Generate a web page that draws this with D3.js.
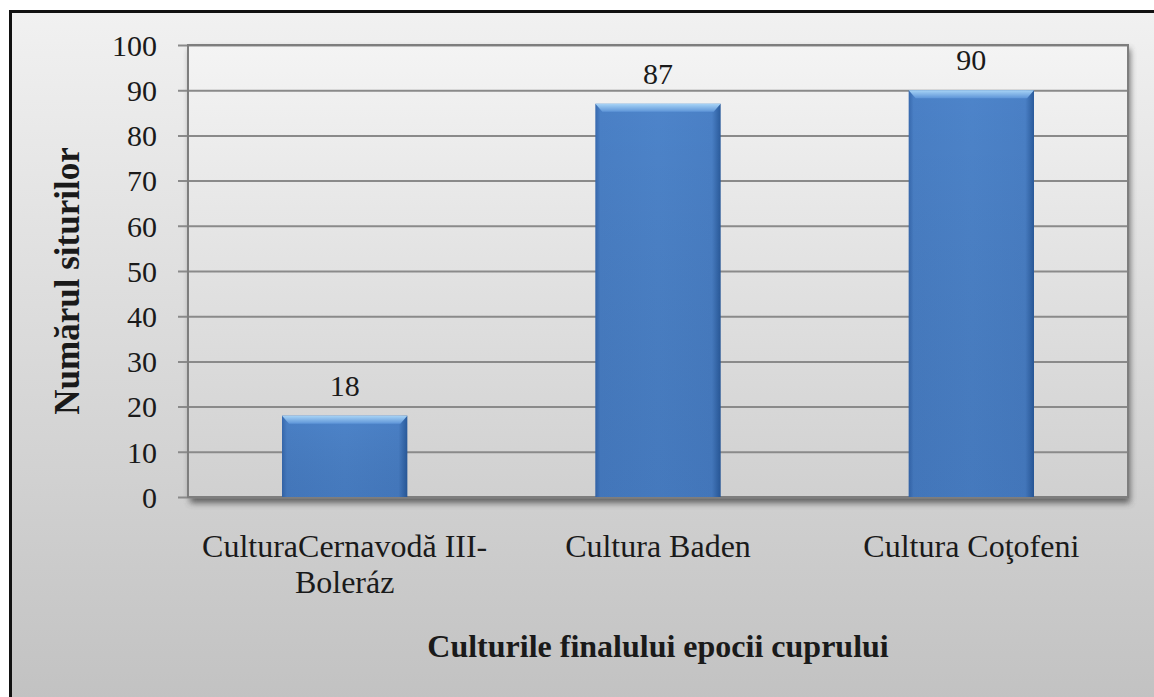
<!DOCTYPE html>
<html>
  <head>
    <meta charset="UTF-8">
    <style>
      body { margin: 0; background: #fff; }
      text { font-family: "Liberation Serif", "Times New Roman", serif; fill: #1a1a1a; }
      .tick text { font-size: 30px; }
      .cat { font-size: 32px; text-anchor: middle; }
      .val { font-size: 30px; text-anchor: middle; }
      .title { font-size: 32px; font-weight: bold; text-anchor: middle; }
      .ytitle { font-size: 35px; }
    </style>
    <script src="https://cdnjs.cloudflare.com/ajax/libs/d3/7.8.5/d3.min.js"></script>
  </head>
  <body>
    <script>
      var categories = [["CulturaCernavodă III-", "Boleráz"], ["Cultura Baden"], ["Cultura Coţofeni"]];
      var values = [18, 87, 90];
      var yTicks = [0, 10, 20, 30, 40, 50, 60, 70, 80, 90, 100];
      var yTitle = "Numărul siturilor";
      var xTitle = "Culturile finalului epocii cuprului";

      var width = 1154, height = 697;
      var plot = { left: 188, top: 45, right: 1128, bottom: 497 };

      var svg = d3.select("body").append("svg")
        .attr("width", width)
        .attr("height", height);

      var defs = svg.append("defs");

      var bg = defs.append("linearGradient").attr("id", "bg")
        .attr("x1", 0).attr("y1", 0).attr("x2", 0).attr("y2", 1);
      bg.append("stop").attr("offset", "0%").attr("stop-color", "#f1f1f1");
      bg.append("stop").attr("offset", "100%").attr("stop-color", "#c0c0c0");

      var pbg = defs.append("linearGradient").attr("id", "pbg")
        .attr("x1", 0).attr("y1", 0).attr("x2", 0).attr("y2", 1);
      pbg.append("stop").attr("offset", "0%").attr("stop-color", "#f4f4f4");
      pbg.append("stop").attr("offset", "100%").attr("stop-color", "#d0d0d0");

      var barG = defs.append("linearGradient").attr("id", "barG")
        .attr("x1", 0).attr("y1", 0).attr("x2", 1).attr("y2", 0);
      [["0%", "#3769ae"], ["4%", "#4a80c6"], ["50%", "#4d84ca"], ["93%", "#4a80c6"], ["100%", "#2a5b9c"]]
        .forEach(function(s) { barG.append("stop").attr("offset", s[0]).attr("stop-color", s[1]); });

      var barV = defs.append("linearGradient").attr("id", "barV")
        .attr("x1", 0).attr("y1", 0).attr("x2", 0).attr("y2", 1);
      barV.append("stop").attr("offset", "0%").attr("stop-color", "#000").attr("stop-opacity", 0);
      barV.append("stop").attr("offset", "100%").attr("stop-color", "#0a2a60").attr("stop-opacity", 0.12);

      var bevel = defs.append("linearGradient").attr("id", "bevel")
        .attr("x1", 0).attr("y1", 0).attr("x2", 0).attr("y2", 1);
      bevel.append("stop").attr("offset", "0%").attr("stop-color", "#a8d4f6");
      bevel.append("stop").attr("offset", "100%").attr("stop-color", "#5e95d8");

      var shadow = defs.append("filter").attr("id", "shadow")
        .attr("x", "-5%").attr("y", "-5%").attr("width", "110%").attr("height", "115%");
      shadow.append("feGaussianBlur").attr("stdDeviation", 3);

      // chart frame
      svg.append("rect")
        .attr("x", 10.5).attr("y", 11.5)
        .attr("width", width + 20).attr("height", height + 20)
        .attr("fill", "url(#bg)")
        .attr("stroke", "#111").attr("stroke-width", 3);

      var x = d3.scaleBand()
        .domain(d3.range(values.length))
        .range([plot.left, plot.right])
        .paddingInner(0.6).paddingOuter(0.3);

      var y = d3.scaleLinear()
        .domain([0, 100])
        .range([plot.bottom, plot.top]);

      // plot area with shadow
      svg.append("rect")
        .attr("x", plot.left + 2).attr("y", plot.top + 4)
        .attr("width", plot.right - plot.left).attr("height", plot.bottom - plot.top + 2)
        .attr("fill", "#444").attr("opacity", 0.8)
        .attr("filter", "url(#shadow)");
      svg.append("rect")
        .attr("x", plot.left).attr("y", plot.top)
        .attr("width", plot.right - plot.left).attr("height", plot.bottom - plot.top)
        .attr("fill", "url(#pbg)");

      // gridlines + y axis
      var yAxis = svg.append("g")
        .attr("transform", "translate(" + plot.left + ",0)")
        .call(d3.axisLeft(y).tickValues(yTicks).tickSize(10).tickPadding(21));
      yAxis.select(".domain").remove();
      yAxis.selectAll(".tick line").attr("stroke", "#8a8a8a").attr("stroke-width", 2)
        .attr("x2", plot.right - plot.left).attr("x1", -10);
      yAxis.selectAll(".tick text").attr("fill", "#1a1a1a").attr("dy", "0.34em");

      // plot border
      svg.append("rect")
        .attr("x", plot.left).attr("y", plot.top)
        .attr("width", plot.right - plot.left).attr("height", plot.bottom - plot.top)
        .attr("fill", "none").attr("stroke", "#7e7e7e").attr("stroke-width", 2);

      // bars
      var bars = svg.append("g").selectAll("g")
        .data(values).enter().append("g");

      bars.append("rect")
        .attr("x", function(d, i) { return x(i); })
        .attr("y", function(d) { return y(d); })
        .attr("width", x.bandwidth())
        .attr("height", function(d) { return y(0) - y(d); })
        .attr("fill", "url(#barG)");
      bars.append("rect")
        .attr("x", function(d, i) { return x(i); })
        .attr("y", function(d) { return y(d); })
        .attr("width", x.bandwidth())
        .attr("height", function(d) { return y(0) - y(d); })
        .attr("fill", "url(#barV)");
      bars.append("path")
        .attr("d", function(d, i) {
          var x0 = x(i), x1 = x(i) + x.bandwidth(), t = y(d);
          return "M" + x0 + "," + t + "L" + x1 + "," + t + "L" + (x1 - 7) + "," + (t + 8) +
            "L" + (x0 + 7) + "," + (t + 8) + "Z";
        })
        .attr("fill", "url(#bevel)");

      // value labels
      svg.append("g").selectAll("text")
        .data(values).enter().append("text")
        .attr("class", "val")
        .attr("x", function(d, i) { return x(i) + x.bandwidth() / 2; })
        .attr("y", function(d) { return y(d) - 20; })
        .text(function(d) { return d; });

      // category labels
      var cat = svg.append("g").selectAll("text")
        .data(categories).enter().append("text")
        .attr("class", "cat")
        .attr("x", function(d, i) { return x(i) + x.bandwidth() / 2; })
        .attr("y", 557);
      cat.selectAll("tspan")
        .data(function(d) { return d; }).enter().append("tspan")
        .attr("x", function() { return d3.select(this.parentNode).attr("x"); })
        .attr("dy", function(d, i) { return i === 0 ? 0 : 36; })
        .text(function(d) { return d; });

      // axis titles
      svg.append("text")
        .attr("class", "title")
        .attr("x", 658).attr("y", 657)
        .text(xTitle);

      svg.append("text")
        .attr("class", "title ytitle")
        .attr("transform", "translate(79,281) rotate(-90)")
        .text(yTitle);
    </script>
  </body>
</html>
